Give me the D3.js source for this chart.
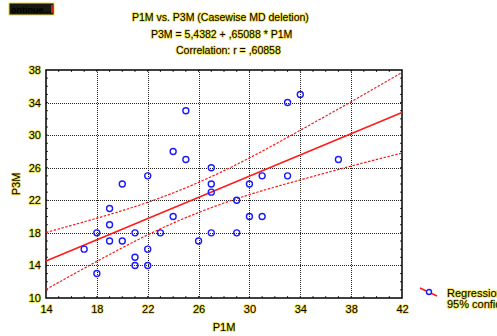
<!DOCTYPE html>
<html>
<head>
<meta charset="utf-8">
<script src="https://cdn.jsdelivr.net/npm/d3@7"></script>
<style>
  body { margin: 0; background: #fff; }
  text { font-family: Arial, "Liberation Sans", sans-serif; fill: #000; }
  .halo { paint-order: stroke; stroke: #f2df4e; stroke-width: 1.6px; stroke-linejoin: round; }
</style>
</head>
<body>
<div id="chart"></div>
<script>
// scatter data (P1M, P3M)
const p1m = [17, 18, 18, 19, 19, 19, 20, 20, 21, 21, 21, 22, 22, 22, 23, 24, 24,
             25, 25, 26, 27, 27, 27, 27, 29, 29, 30, 30, 31, 31, 33, 33, 34, 37];
const p3m = [16, 18, 13, 21, 19, 17, 24, 17, 18, 15, 14, 25, 16, 14, 18, 28, 20,
             33, 27, 17, 26, 24, 23, 18, 22, 18, 24, 20, 25, 20, 34, 25, 35, 27];

// regression coefficients from the title
const intercept = 5.4382;
const slope = 0.65088;

// 95% confidence band
const bandX = [14, 18, 22, 26, 30, 34, 38, 42];
const bandUpper = [18.05, 19.8, 21.75, 24.2, 27.2, 30.6, 34.1, 37.7];
const bandLower = [11.05, 14.5, 17.75, 20.5, 22.7, 24.5, 26.2, 27.8];

const xTicks = [14, 18, 22, 26, 30, 34, 38, 42];
const yTicks = [10, 14, 18, 22, 26, 30, 34, 38];

const titleLines = [
  'P1M vs. P3M (Casewise MD deletion)',
  'P3M = 5,4382 + ,65088 * P1M',
  'Correlation: r = ,60858'
];
const legendLabels = ['Regression', '95% confid.'];

const W = 497, H = 336;
const margin = {top: 70, right: 95, bottom: 38, left: 46};
const width = W - margin.left - margin.right;
const height = H - margin.top - margin.bottom;

const svg = d3.select('#chart').append('svg')
  .attr('width', W)
  .attr('height', H);

const g = svg.append('g')
  .attr('transform', 'translate(' + margin.left + ',' + margin.top + ')');

const x = d3.scaleLinear().domain([14, 42]).range([0, width]);
const y = d3.scaleLinear().domain([10, 38]).range([height, 0]);

// grid lines
g.append('g')
  .selectAll('line')
  .data(xTicks.slice(1, -1))
  .enter().append('line')
  .attr('x1', d => Math.round(x(d)) + 0.5).attr('x2', d => Math.round(x(d)) + 0.5)
  .attr('y1', 0).attr('y2', height)
  .attr('stroke', '#222').attr('stroke-width', 1)
  .attr('stroke-dasharray', '1,1');

g.append('g')
  .selectAll('line')
  .data(yTicks.slice(1, -1))
  .enter().append('line')
  .attr('x1', 0).attr('x2', width)
  .attr('y1', d => Math.round(y(d)) + 0.5).attr('y2', d => Math.round(y(d)) + 0.5)
  .attr('stroke', '#222').attr('stroke-width', 1)
  .attr('stroke-dasharray', '1,1');

// minor ticks pointing inward on all four sides
const minorX = d3.range(15, 42);
const minorY = d3.range(11, 38);
const ticks = g.append('g').attr('stroke', '#333').attr('stroke-width', 1);
minorX.forEach(function(d) {
  ticks.append('line').attr('x1', x(d)).attr('x2', x(d)).attr('y1', 0).attr('y2', 2);
  ticks.append('line').attr('x1', x(d)).attr('x2', x(d)).attr('y1', height).attr('y2', height - 2);
});
minorY.forEach(function(d) {
  ticks.append('line').attr('y1', y(d)).attr('y2', y(d)).attr('x1', 0).attr('x2', 2);
  ticks.append('line').attr('y1', y(d)).attr('y2', y(d)).attr('x1', width).attr('x2', width - 2);
});

// frame
g.append('rect')
  .attr('width', width).attr('height', height)
  .attr('fill', 'none').attr('stroke', '#000').attr('stroke-width', 1.5);

// axis labels
const xAxis = d3.axisBottom(x).tickValues(xTicks).tickSize(0).tickPadding(7);
const yAxis = d3.axisLeft(y).tickValues(yTicks).tickSize(0).tickPadding(5);

g.append('g')
  .attr('transform', 'translate(0,' + height + ')')
  .call(xAxis)
  .call(s => s.select('.domain').remove())
  .selectAll('text')
  .attr('class', 'halo')
  .style('font-size', '11px').attr('fill', '#000');

g.append('g')
  .call(yAxis)
  .call(s => s.select('.domain').remove())
  .selectAll('text')
  .attr('class', 'halo')
  .style('font-size', '11px').attr('fill', '#000');

// confidence band
const band = d3.line()
  .x(d => x(d[0]))
  .y(d => y(d[1]))
  .curve(d3.curveNatural);

[bandUpper, bandLower].forEach(function(vals) {
  g.append('path')
    .attr('d', band(bandX.map((d, i) => [d, vals[i]])))
    .attr('fill', 'none')
    .attr('stroke', '#ff1a1a')
    .attr('stroke-width', 1.2)
    .attr('stroke-dasharray', '2.5,1.5');
});

// regression line
g.append('line')
  .attr('x1', x(14)).attr('y1', y(intercept + slope * 14))
  .attr('x2', x(42)).attr('y2', y(intercept + slope * 42))
  .attr('stroke', '#ff1a1a').attr('stroke-width', 1.5);

// points
g.selectAll('circle.pt')
  .data(p1m.map((d, i) => [d, p3m[i]]))
  .enter().append('circle')
  .attr('class', 'pt')
  .attr('cx', d => x(d[0]))
  .attr('cy', d => y(d[1]))
  .attr('r', 3)
  .attr('fill', 'none')
  .attr('stroke', '#1a1aff')
  .attr('stroke-width', 1.4);

// axis titles
svg.append('text')
  .attr('class', 'halo')
  .attr('x', margin.left + width / 2)
  .attr('y', 331)
  .attr('text-anchor', 'middle')
  .style('font-size', '11px')
  .text('P1M');

svg.append('text')
  .attr('class', 'halo')
  .attr('transform', 'translate(20,' + (margin.top + height / 2) + ') rotate(-90)')
  .attr('text-anchor', 'middle')
  .style('font-size', '11px')
  .text('P3M');

// title block (left edges as in the original)
const titleX = [132, 151, 176];
const titleY = [21, 37.5, 54];
svg.selectAll('text.title')
  .data(titleLines)
  .enter().append('text')
  .attr('class', 'title halo')
  .attr('x', (d, i) => titleX[i])
  .attr('y', (d, i) => titleY[i])
  .style('font-size', '10.5px')
  .text(d => d);

// "Continue..." button in the corner
const btn = svg.append('g').attr('transform', 'translate(9,3)');
btn.append('rect')
  .attr('width', 45).attr('height', 12)
  .attr('fill', '#1a1a10').attr('stroke', '#e8d84a').attr('stroke-width', 1);
btn.append('rect')
  .attr('x', 42).attr('y', 2).attr('width', 2.5).attr('height', 8)
  .attr('fill', '#c02020');
btn.append('text')
  .attr('x', 2).attr('y', 9.5)
  .style('font-size', '9px')
  .style('font-weight', 'bold')
  .attr('fill', '#f0e6a0')
  .text('ontinue...');

// legend
const lg = svg.append('g').attr('transform', 'translate(420,288)');
lg.append('line')
  .attr('x1', 0).attr('y1', 0).attr('x2', 17).attr('y2', 8)
  .attr('stroke', '#ff1a1a').attr('stroke-width', 1.5);
lg.append('circle')
  .attr('cx', 9).attr('cy', 4).attr('r', 2.5)
  .attr('fill', '#fff').attr('stroke', '#1a1aff').attr('stroke-width', 1.4);
lg.selectAll('text')
  .data(legendLabels)
  .enter().append('text')
  .attr('class', 'halo')
  .attr('x', 27)
  .attr('y', (d, i) => 9 + i * 11)
  .style('font-size', '11px')
  .text(d => d);
</script>
</body>
</html>
